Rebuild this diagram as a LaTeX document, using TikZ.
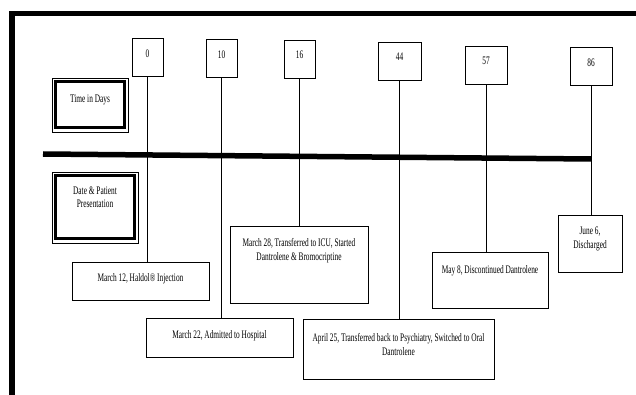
\documentclass[tikz,border=0pt]{standalone}
\usepackage{fontspec}
\setmainfont{Liberation Serif}[FakeStretch=0.64]
\usetikzlibrary{positioning}

\tikzset{
  daybox/.style={draw, line width=0.9pt, minimum width=#1, minimum height=38,
    inner sep=0pt, text height=7.5pt, text depth=7.5pt, font=\fontsize{11.5}{14}\selectfont},
  daybox/.default=31,
  evbox/.style={draw, line width=0.9pt, inner sep=0pt},
  evtext/.style={align=center, inner sep=0pt, font=\fontsize{11.5}{14}\selectfont},
  lblbox/.style={draw, line width=0.7pt, inner sep=0pt},
  tick/.style={line width=0.6pt},
}

\begin{document}
\begin{tikzpicture}[x=1pt,y=-1pt]
\useasboundingbox (0,0) rectangle (636,395);

% outer frame
\coordinate (fbl) at (12,400);
\coordinate (ftl) at (12,13.5);
\coordinate (ftr) at (640,13.5);
\draw[line width=5.5pt] (fbl) -- (ftl) -- (ftr);

% day boxes
\foreach \d/\x/\y/\w in {0/147.5/57.5/31, 10/221.5/58.5/31, 16/299.5/59/31,
                         44/399.5/61/43, 57/486/65/42, 86/591/66.5/42} {
	\node[daybox=\w] (d\d) at (\x,\y) {\d};
}

% labels on the left
\node[lblbox, minimum width=76, minimum height=54] (days) at (90,105) {};
\draw[line width=3pt] ([shift={(4pt,-4pt)}]days.north west) rectangle ([shift={(-4pt,4.5pt)}]days.south east);
\node[evtext, below=17.5pt of days.north] (dayst) {Time in Days};

\node[lblbox, minimum width=86, minimum height=71] (pres) at (95,207.5) {};
\draw[line width=3pt] ([shift={(4pt,-4pt)}]pres.north west) rectangle ([shift={(-4pt,4.5pt)}]pres.south east);
\node[evtext, below=15.5pt of pres.north, font=\fontsize{11.5}{13}\selectfont] (prest) {Date \& Patient\\Presentation};

% thick time bar
\coordinate (barL) at (43,154);
\coordinate (barR) at (591,159);
\draw[line width=5.5pt] (barL) -- (barR);

% event boxes and their texts
\foreach \d/\x/\y/\w/\h/\s/\txt in {
	0/140.5/281/137/38/11.5/{March 12, Haldol\textregistered{} Injection},
	10/219.5/337.5/147/39/12.5/{March 22, Admitted to Hospital},
	16/299/264.5/138/77/12.5/{March 28, Transferred to ICU, Started\\Dantrolene \& Bromocriptine},
	44/398.5/349/191/60/14.5/{April 25, Transferred back to Psychiatry, Switched to Oral\\Dantrolene},
	57/490/280/116/56/13.5/{May 8, Discontinued Dantrolene},
	86/590/243.5/64/57/12.5/{June 6,\\Discharged}} {
	\node[evbox, minimum width=\w, minimum height=\h] (e\d) at (\x,\y) {};
	\node[evtext, below=\s pt of e\d.north] (t\d) {\txt};
}

% lines day -> event
\foreach \d in {0,10,16,44,57,86} {
	\draw[tick] (d\d.south) -- (d\d.south |- e\d.north);
}
\end{tikzpicture}
\end{document}
